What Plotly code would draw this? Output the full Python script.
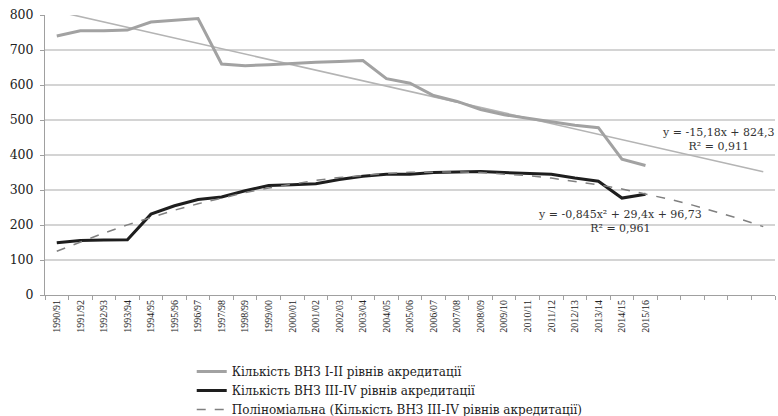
import numpy as np
import plotly.graph_objects as go

years = ["1990/91", "1991/92", "1992/93", "1993/94", "1994/95", "1995/96", "1996/97",
         "1997/98", "1998/99", "1999/00", "2000/01", "2001/02", "2002/03", "2003/04",
         "2004/05", "2005/06", "2006/07", "2007/08", "2008/09", "2009/10", "2010/11",
         "2011/12", "2012/13", "2013/14", "2014/15", "2015/16"]
forecast_periods = 5

vnz_1_2 = [740, 755, 755, 757, 780, 785, 790, 660, 655, 658, 662, 665, 667, 670,
           618, 605, 570, 553, 530, 515, 505, 495, 485, 478, 388, 370]
vnz_3_4 = [149, 156, 157, 158, 231, 255, 273, 280, 298, 313, 315, 318, 330, 339,
           345, 345, 350, 351, 353, 350, 348, 345, 334, 325, 277, 288]

name1 = "Кількість ВНЗ І-ІІ рівнів акредитації"
name2 = "Кількість ВНЗ ІІІ-IV рівнів акредитації"
name3 = "Поліноміальна (Кількість ВНЗ ІІІ-IV рівнів акредитації)"
eq_lin = "y = -15,18x + 824,3<br>R² = 0,911"
eq_poly = "y = -0,845x² + 29,4x + 96,73<br>R² = 0,961"

x = np.arange(1, len(years) + 1)
x_all = np.arange(1, len(years) + forecast_periods + 1)
lin = np.polyval(np.polyfit(x, vnz_1_2, 1), x_all)
poly = np.polyval(np.polyfit(x, vnz_3_4, 2), x_all)

font = "DejaVu Serif, Liberation Serif, serif"
font2 = "Liberation Serif, serif"
fig = go.Figure()
fig.add_trace(go.Scatter(x=x_all, y=lin, mode="lines", showlegend=False,
                         line=dict(color="#b4b4b4", width=1.6), hoverinfo="skip"))
fig.add_trace(go.Scatter(x=x, y=vnz_1_2, mode="lines", name=name1,
                         line=dict(color="#a2a2a2", width=3)))
fig.add_trace(go.Scatter(x=x, y=vnz_3_4, mode="lines", name=name2,
                         line=dict(color="#1e1e1e", width=3)))
fig.add_trace(go.Scatter(x=x_all, y=poly, mode="lines", name=name3,
                         line=dict(color="#808080", width=1.5, dash="dash")))

fig.add_annotation(x=0.922, y=444, xref="paper", yref="y", text=eq_lin, showarrow=False,
                   xanchor="center", align="center",
                   font=dict(family=font, size=11, color="#333"))
fig.add_annotation(x=24.9, y=209, xref="x", yref="y", text=eq_poly, showarrow=False,
                   xanchor="center", align="center",
                   font=dict(family=font, size=11, color="#333"))

fig.update_layout(
    width=778, height=416,
    margin=dict(l=45, r=3, t=15, b=121, autoexpand=False),
    paper_bgcolor="white", plot_bgcolor="white",
    font=dict(family=font, color="#222"),
    legend=dict(x=0.201, y=-0.221, xanchor="left", yanchor="top",
                font=dict(family=font, size=12, color="#222"),
                bgcolor="rgba(0,0,0,0)", tracegroupgap=0),
    xaxis=dict(range=[0.5, len(x_all) + 0.5], tickvals=list(x), ticktext=years,
               tickangle=-90, tickfont=dict(size=10, family=font2), automargin=False,
               showgrid=False, zeroline=False, showline=True, linecolor="#a0a0a0",
               linewidth=1, ticks="",
               minor=dict(tick0=0.5, dtick=1, ticks="outside", ticklen=4,
                          tickcolor="#a0a0a0", showgrid=False)),
    yaxis=dict(range=[0, 800], dtick=100, tickfont=dict(size=12.5, family=font),
               automargin=False,
               showgrid=True, gridcolor="#d4d4d4", gridwidth=1.5, zeroline=False,
               showline=True, linecolor="#a0a0a0", linewidth=1,
               ticks="outside", ticklen=4, tickcolor="#a0a0a0",
               ticklabelstandoff=4),
)
fig.write_html("out.html", config={"displayModeBar": False},
               post_script="document.body.style.margin='0';document.body.style.overflow='hidden';")
